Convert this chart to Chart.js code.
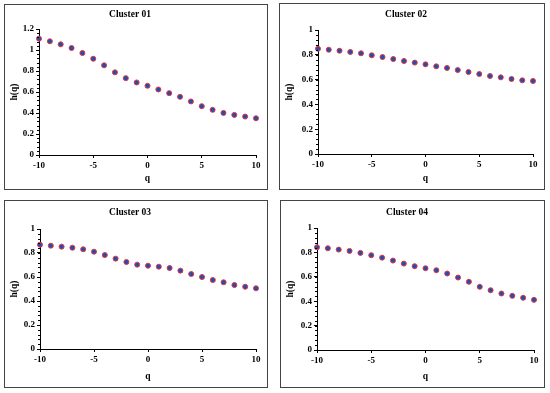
<!DOCTYPE html>
<html><head><meta charset="utf-8">
<script src="https://cdn.jsdelivr.net/npm/chart.js@4.4.0/dist/chart.umd.min.js"></script>
<style>
html,body{margin:0;padding:0;background:#fff;width:550px;height:393px;overflow:hidden;}
.box{position:absolute;border:1px solid #444;box-sizing:border-box;}
canvas{position:absolute;}
</style></head><body>
<div id="root"></div>
<script>
const qValues = [-10,-9,-8,-7,-6,-5,-4,-3,-2,-1,0,1,2,3,4,5,6,7,8,9,10];
const cluster01 = [1.108,1.083,1.054,1.019,0.971,0.917,0.854,0.787,0.732,0.691,0.659,0.624,0.589,0.554,0.510,0.465,0.430,0.401,0.382,0.366,0.350];
const cluster02 = [0.849,0.841,0.833,0.823,0.812,0.796,0.782,0.766,0.750,0.737,0.723,0.707,0.694,0.677,0.661,0.645,0.629,0.618,0.605,0.594,0.589];
const cluster03 = [0.869,0.861,0.853,0.844,0.831,0.811,0.783,0.753,0.725,0.703,0.694,0.686,0.675,0.653,0.625,0.600,0.575,0.556,0.533,0.519,0.506];
const cluster04 = [0.842,0.834,0.823,0.812,0.796,0.777,0.757,0.733,0.708,0.687,0.670,0.654,0.627,0.594,0.559,0.518,0.490,0.463,0.444,0.428,0.411];
const titles = ["Cluster 01","Cluster 02","Cluster 03","Cluster 04"];
const yMaxes = [1.2, 1, 1, 1];

const panels = [
  {l:4,t:4,w:264,h:186, left:35,right:12,top:25,bottom:35,titleC:11},
  {l:279,t:3,w:266,h:187, left:39,right:12,top:27,bottom:36,titleC:12},
  {l:4,t:200,w:264,h:188, left:36,right:12,top:29,bottom:39,titleC:13},
  {l:280,t:200,w:265,h:188, left:37,right:11,top:28,bottom:38,titleC:13}
];
const series = [cluster01, cluster02, cluster03, cluster04];
const FONT = "'Liberation Serif','Times New Roman',serif";

const minorTicks = {
  id:'minorTicks',
  afterDraw(chart){
    const ys = chart.scales.y, ctx = chart.ctx;
    ctx.save();
    ctx.strokeStyle = '#000'; ctx.lineWidth = 1;
    const step = 0.04;
    for (let v = 0; v <= ys.max + 1e-9; v += step) {
      const y = Math.round(ys.getPixelForValue(v)) + 0.5;
      ctx.beginPath(); ctx.moveTo(ys.right - 2, y); ctx.lineTo(ys.right, y); ctx.stroke();
    }
    ctx.restore();
  }
};

const root = document.getElementById('root');
panels.forEach((p, i) => {
  const box = document.createElement('div');
  box.className = 'box';
  Object.assign(box.style, {left:p.l+'px', top:p.t+'px', width:p.w+'px', height:p.h+'px'});
  const cv = document.createElement('canvas');
  cv.width = p.w; cv.height = p.h;
  Object.assign(cv.style, {left:p.l+'px', top:p.t+'px', width:p.w+'px', height:p.h+'px'});
  root.appendChild(cv);
  root.appendChild(box);
  const titleFont = 9.5;
  const lh = titleFont * 1.2;
  const padTop = p.titleC - lh/2;
  const padBottom = p.top - padTop - lh;
  new Chart(cv, {
    type:'scatter',
    data:{datasets:[{
      data: qValues.map((q, k) => ({x:q, y:series[i][k]})),
      backgroundColor:'#1f4fb0',
      borderColor:'#e8343c',
      borderWidth:1,
      pointRadius:2.5,
      pointHoverRadius:2.5,
      clip:false
    }]},
    options:{
      responsive:false, animation:false, devicePixelRatio:1,
      layout:{padding:{left:0,right:p.right,top:0,bottom:0}},
      plugins:{
        legend:{display:false}, tooltip:{enabled:false},
        title:{display:true, text:titles[i], color:'#000',
          font:{family:FONT, size:titleFont, weight:'bold', lineHeight:1.2},
          padding:{top:padTop, bottom:padBottom}}
      },
      scales:{
        x:{type:'linear', min:-10, max:10,
          ticks:{stepSize:5, color:'#000', padding:2, font:{family:FONT, size:9, weight:'bold'}},
          grid:{drawOnChartArea:false, drawTicks:true, tickLength:3, color:'#000'},
          border:{display:true, color:'#000', width:1},
          title:{display:true, text:'q', color:'#000', font:{family:FONT, size:9.5, weight:'bold'}, padding:{top:0,bottom:6}},
          afterFit(s){ s.height = p.bottom; }
        },
        y:{type:'linear', min:0, max:yMaxes[i],
          ticks:{stepSize:0.2, color:'#000', padding:2, font:{family:FONT, size:9, weight:'bold'},
            callback:v => String(Number(v.toFixed(1)))},
          grid:{drawOnChartArea:false, drawTicks:true, tickLength:3, color:'#000'},
          border:{display:true, color:'#000', width:1},
          title:{display:true, text:'h(q)', color:'#000', font:{family:FONT, size:9.5, weight:'bold'}, padding:{top:5,bottom:2}},
          afterFit(s){ s.width = p.left; }
        }
      }
    },
    plugins:[minorTicks]
  });
});
</script>
</body></html>
